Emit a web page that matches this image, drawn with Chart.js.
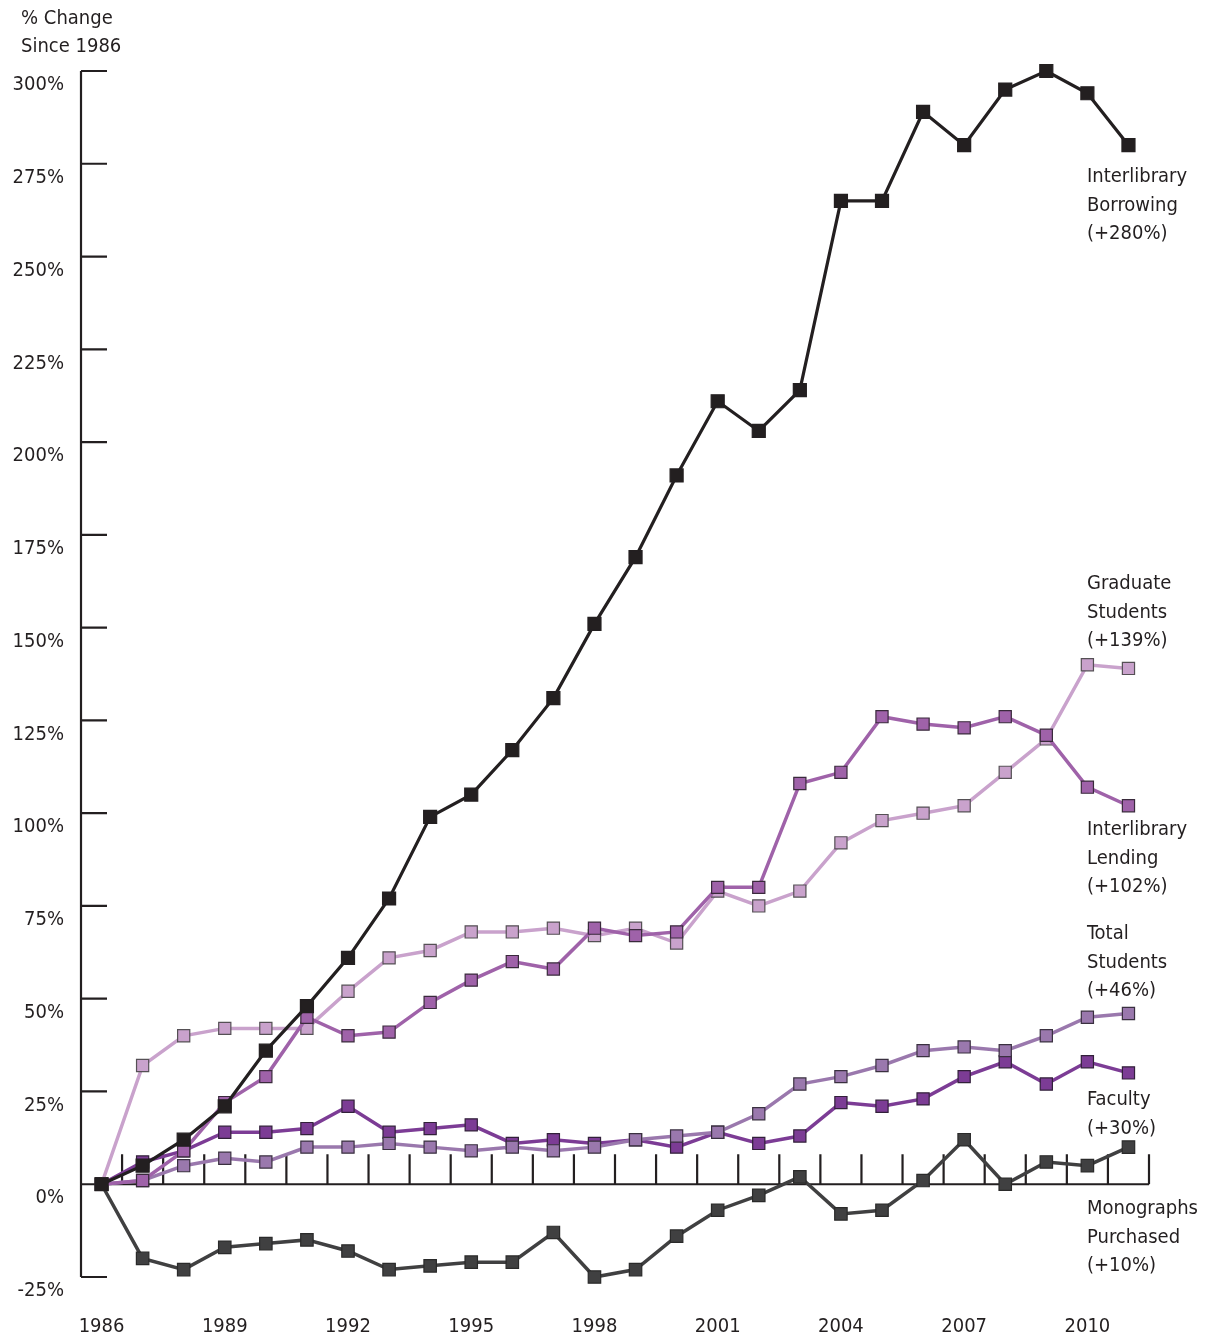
<!DOCTYPE html>
<html>
<head>
<meta charset="utf-8">
<script src="https://cdn.jsdelivr.net/npm/chart.js@4.4.1/dist/chart.umd.min.js"></script>
<style>
html,body{margin:0;padding:0;background:#fff;}
#wrap{width:1205px;height:1338px;}
</style>
</head>
<body>
<div id="wrap"><canvas id="c" width="1205" height="1338"></canvas></div>
<script>
const years = [1986,1987,1988,1989,1990,1991,1992,1993,1994,1995,1996,1997,1998,1999,2000,2001,2002,2003,2004,2005,2006,2007,2008,2009,2010,2011];
const xTickYears = [1986,1989,1992,1995,1998,2001,2004,2007,2010];
const yTickValues = [-25,0,25,50,75,100,125,150,175,200,225,250,275,300];

const interlibraryBorrowing = [0,5,12,21,36,48,61,77,99,105,117,131,151,169,191,211,203,214,265,265,289,280,295,300,294,280];
const graduateStudents      = [0,32,40,42,42,42,52,61,63,68,68,69,67,69,65,79,75,79,92,98,100,102,111,120,140,139];
const interlibraryLending   = [0,1,9,22,29,45,40,41,49,55,60,58,69,67,68,80,80,108,111,126,124,123,126,121,107,102];
const totalStudents         = [0,1,5,7,6,10,10,11,10,9,10,9,10,12,13,14,19,27,29,32,36,37,36,40,45,46];
const faculty               = [0,6,9,14,14,15,21,14,15,16,11,12,11,12,10,14,11,13,22,21,23,29,33,27,33,30];
const monographsPurchased   = [0,-20,-23,-17,-16,-15,-18,-23,-22,-21,-21,-13,-25,-23,-14,-7,-3,2,-8,-7,1,12,0,6,5,10];

const seriesNames = ['Interlibrary Borrowing','Interlibrary Lending','Graduate Students','Total Students','Faculty','Monographs Purchased'];
const endLabels = [
  {lines:['Interlibrary','Borrowing','(+280%)'], y:177},
  {lines:['Graduate','Students','(+139%)'], y:584},
  {lines:['Interlibrary','Lending','(+102%)'], y:830},
  {lines:['Total','Students','(+46%)'], y:934},
  {lines:['Faculty','(+30%)'], y:1100},
  {lines:['Monographs','Purchased','(+10%)'], y:1209}
];

const FONT = '"Liberation Sans Narrow","DejaVu Sans Condensed","Noto Sans",sans-serif';
const INK = '#231f20';

function pts(arr){ return years.map((y,i)=>({x:y, y:arr[i]})); }

function ds(label, data, color, border, bw, r){
  return {
    label, data: pts(data), clip: false,
    borderColor: color, backgroundColor: color,
    borderWidth: bw, pointStyle: 'rect', pointRadius: r, pointHoverRadius: r,
    pointBackgroundColor: color, pointBorderColor: border, pointBorderWidth: 1.2,
    tension: 0, fill: false
  };
}

const framePlugin = {
  id: 'frame',
  beforeDatasetsDraw(chart){
    const {ctx, scales:{x, y}} = chart;
    ctx.save();
    ctx.strokeStyle = INK;
    ctx.lineWidth = 2.2;
    ctx.lineCap = 'butt';
    const left = x.getPixelForValue(1985.5);
    const right = x.getPixelForValue(2011.5);
    const y0 = y.getPixelForValue(0);
    ctx.beginPath();
    ctx.moveTo(left, y.getPixelForValue(300));
    ctx.lineTo(left, y.getPixelForValue(-25));
    yTickValues.forEach(v=>{
      if (v===0) return;
      const py = y.getPixelForValue(v);
      ctx.moveTo(left, py); ctx.lineTo(left+26, py);
    });
    ctx.moveTo(left, y0); ctx.lineTo(right, y0);
    for (let yr=1986.5; yr<=2011.5; yr+=1){
      const px = x.getPixelForValue(yr);
      ctx.moveTo(px, y0); ctx.lineTo(px, y0-30);
    }
    ctx.stroke();
    ctx.restore();
  },
  afterDraw(chart){
    const {ctx} = chart;
    ctx.save();
    ctx.fillStyle = INK;
    ctx.font = '20px ' + FONT;
    ctx.textBaseline = 'middle';
    ctx.textAlign = 'left';
    ctx.fillText('% Change', 21, 19);
    ctx.fillText('Since 1986', 21, 47);
    endLabels.forEach(l=>{
      l.lines.forEach((t,i)=> ctx.fillText(t, 1087, l.y + i*28.5));
    });
    ctx.restore();
  }
};

new Chart(document.getElementById('c'), {
  type: 'line',
  data: {
    datasets: [
      ds(seriesNames[0], interlibraryBorrowing, '#231f20', '#231f20', 3.2, 9.2),
      ds(seriesNames[1], interlibraryLending, '#9f62a9', '#3a2a3c', 3.5, 8.6),
      ds(seriesNames[2], graduateStudents, '#c9a2cc', '#555055', 3.5, 8.6),
      ds(seriesNames[3], totalStudents, '#9a78ad', '#3a3040', 3.5, 8.6),
      ds(seriesNames[4], faculty, '#7c3c95', '#32203a', 3.5, 8.6),
      ds(seriesNames[5], monographsPurchased, '#404041', '#2a2a2a', 3.5, 8.8)
    ]
  },
  options: {
    responsive: false,
    animation: false,
    devicePixelRatio: 1,
    layout: { padding: { left: 0, top: 71, right: 56, bottom: 0 } },
    plugins: { legend: { display: false }, tooltip: { enabled: false } },
    scales: {
      x: {
        type: 'linear', min: 1985.5, max: 2011.5,
        afterBuildTicks(s){ s.ticks = xTickYears.map(v=>({value:v})); },
        afterFit(s){ s.height = 61; },
        grid: { display: false, drawTicks: false },
        border: { display: false },
        ticks: { color: INK, font: { family: FONT, size: 20 }, padding: 38, maxRotation: 0, autoSkip: false,
                 callback: v => String(v) }
      },
      y: {
        type: 'linear', min: -25, max: 300,
        afterBuildTicks(s){ s.ticks = yTickValues.map(v=>({value:v})); },
        afterFit(s){ s.width = 81; },
        grid: { display: false, drawTicks: false },
        border: { display: false },
        ticks: { color: INK, font: { family: FONT, size: 20 }, padding: 17, labelOffset: 14,
                 callback: v => v + '%' }
      }
    }
  },
  plugins: [framePlugin]
});
</script>
</body>
</html>
